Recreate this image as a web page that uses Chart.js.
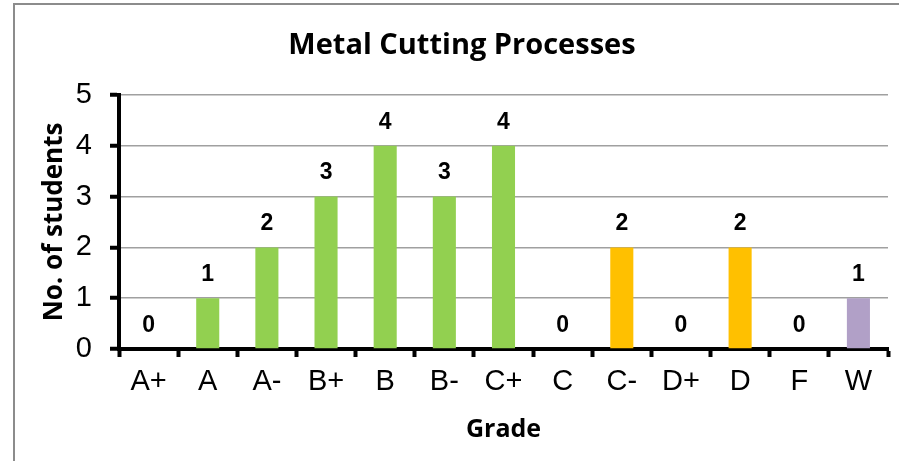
<!DOCTYPE html>
<html>
<head>
<meta charset="utf-8">
<script src="https://cdn.jsdelivr.net/npm/chart.js@4.4.0/dist/chart.umd.min.js"></script>
<style>
  html, body { margin: 0; padding: 0; background: #fff; }
  #wrap { position: relative; width: 899px; height: 461px; overflow: hidden; }
  #frame { position: absolute; left: 13px; top: 3px; width: 900px; height: 470px; border: 2px solid #8c8c8c; box-sizing: border-box; }
  #chart { position: absolute; left: 0; top: 0; }
</style>
</head>
<body>
<div id="wrap">
  <div id="frame"></div>
  <canvas id="chart" width="899" height="461"></canvas>
</div>
<script>
// grades and counts
const grades = ["A+", "A", "A-", "B+", "B", "B-", "C+", "C", "C-", "D+", "D", "F", "W"];
const students = [0, 1, 2, 3, 4, 3, 4, 0, 2, 0, 2, 0, 1];
const barColors = ["#92D050", "#92D050", "#92D050", "#92D050", "#92D050", "#92D050", "#92D050",
  "#FFC000", "#FFC000", "#FFC000", "#FFC000", "#B1A0C7", "#B1A0C7"];
const yTicks = [0, 1, 2, 3, 4, 5];
const chartTitle = "Metal Cutting Processes";

const calibri = "'Open Sans', 'Liberation Sans', sans-serif";
const arial = "'Liberation Sans', Arial, sans-serif";

// value above each bar (zeros too) and the title, which sits a bit right of centre
const valueLabels = {
  id: "valueLabels",
  afterDatasetsDraw(chart) {
    const ctx = chart.ctx;
    const meta = chart.getDatasetMeta(0);
    ctx.save();
    ctx.font = "bold 23px " + arial;
    ctx.fillStyle = "#000";
    ctx.textAlign = "center";
    ctx.textBaseline = "middle";
    meta.data.forEach((bar, i) => {
      ctx.fillText(String(students[i]), bar.x, bar.y - 23.5);
    });
    ctx.font = "bold 29px " + calibri;
    ctx.fillText(chartTitle, 462, 46);
    ctx.restore();
  }
};

new Chart(document.getElementById("chart"), {
  type: "bar",
  data: {
    labels: grades,
    datasets: [{
      data: students,
      backgroundColor: barColors,
      categoryPercentage: 1,
      barPercentage: 0.39
    }]
  },
  options: {
    responsive: false,
    animation: false,
    layout: { padding: { left: 0, right: 11, top: 95, bottom: 0 } },
    plugins: {
      legend: { display: false },
      tooltip: { enabled: false },
      title: { display: false }
    },
    scales: {
      x: {
        offset: true,
        grid: {
          offset: true,
          drawOnChartArea: false,
          drawTicks: true,
          tickLength: 8,
          tickWidth: 4,
          tickColor: "#000"
        },
        border: { display: true, color: "#000", width: 4 },
        ticks: {
          color: "#000",
          font: { family: arial, size: 29 },
          padding: 8
        },
        title: {
          display: true,
          text: "Grade",
          color: "#000",
          font: { family: calibri, size: 25, weight: "bold" },
          padding: { top: 0, bottom: 16 }
        },
        afterFit(scale) { scale.height = 112; }
      },
      y: {
        min: 0,
        max: 5,
        afterBuildTicks(scale) { scale.ticks = yTicks.map(v => ({ value: v })); },
        grid: {
          color: "#a0a0a0",
          lineWidth: 1.5,
          drawTicks: true,
          tickLength: 9,
          tickWidth: 4,
          tickColor: "#000"
        },
        border: { display: true, color: "#000", width: 4 },
        ticks: {
          color: "#000",
          font: { family: arial, size: 29 },
          padding: 18
        },
        title: {
          display: true,
          text: "No. of students",
          color: "#000",
          font: { family: calibri, size: 26, weight: "bold" },
          padding: { top: 39, bottom: 0 }
        },
        afterFit(scale) { scale.width = 119; }
      }
    }
  },
  plugins: [valueLabels]
});
</script>
</body>
</html>
